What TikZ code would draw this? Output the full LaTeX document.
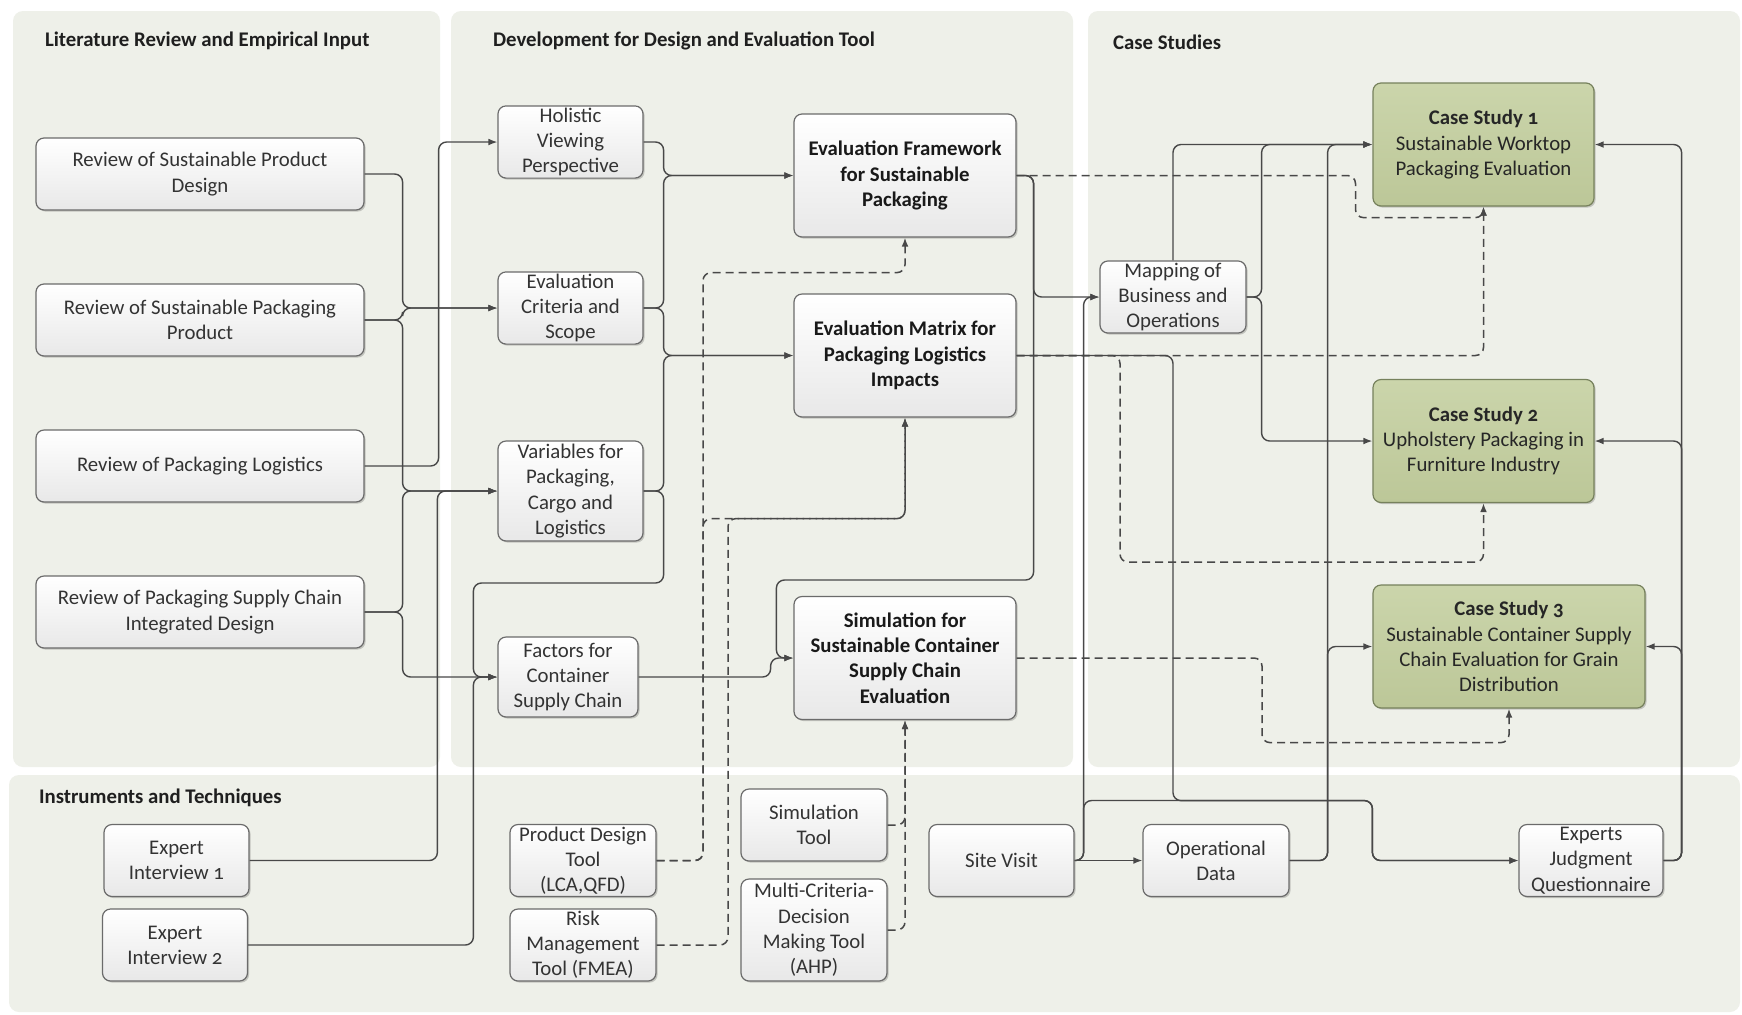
\documentclass[tikz,border=0pt]{standalone}
\usepackage{fontspec}
\setmainfont{Carlito}[Numbers=OldStyle]
\usetikzlibrary{arrows.meta,calc,shadows}
\definecolor{panel}{HTML}{EEF0E9}
\definecolor{lineC}{HTML}{484848}
\definecolor{boxB}{HTML}{6B6B6B}
\definecolor{csTop}{HTML}{CBD5AB}
\definecolor{csBot}{HTML}{BCC798}
\definecolor{csB}{HTML}{76815C}
\definecolor{txt}{HTML}{333333}
\begin{document}
\begin{tikzpicture}[x=0.5pt,y=-0.5pt,
  every node/.style={font=\fontsize{10.4}{12.6}\selectfont, text=txt},
  box/.style={draw=boxB, line width=0.6pt, rounded corners=4pt, align=center, inner sep=1pt,
    top color=white, bottom color=black!9,
    drop shadow={shadow xshift=0.8pt, shadow yshift=-0.8pt, opacity=0.18, fill=black}},
  wide/.style={box, minimum width=164pt, minimum height=36pt},
  small/.style={box, minimum width=72.5pt, minimum height=36pt},
  big/.style={box, minimum width=111pt, minimum height=61.5pt, font=\fontsize{10.4}{12.6}\selectfont\bfseries, text=black!90},
  cs/.style={box, draw=csB, top color=csTop, bottom color=csBot, minimum width=110.5pt, minimum height=61.5pt, text=black!85},
  hdr/.style={anchor=west, font=\fontsize{10.4}{12.6}\selectfont\bfseries, text=black!88},
  conn/.style={draw=lineC, line width=0.7pt, rounded corners=4pt},
  arr/.style={-{Latex[length=4.5pt,width=3.4pt]}},
  dsh/.style={dash pattern=on 4pt off 2.5pt, line width=0.75pt}
]
\useasboundingbox (0,0) rectangle (1742,1014);
\fill[white] (0,0) rectangle (1742,1014);
% panels
\fill[panel, rounded corners=5pt] (13,11) rectangle (440,767);
\fill[panel, rounded corners=5pt] (451,11) rectangle (1073,767);
\fill[panel, rounded corners=5pt] (1088,11) rectangle (1740,767);
\fill[panel, rounded corners=5pt] (9,775) rectangle (1740,1012);
% headers
\node[hdr] (h1) at (38,41) {Literature Review and Empirical Input};
\node[hdr] (h2) at (486,41) {Development for Design and Evaluation Tool};
\node[hdr] (h3) at (1106,42) {Case Studies};
\node[hdr] (h4) at (32,798) {Instruments and Techniques};
% left column
\node[wide] (R1) at (200,174) {Review of Sustainable Product\\Design};
\node[wide] (R2) at (200,320) {Review of Sustainable Packaging\\Product};
\node[wide] (R3) at (200,466) {Review of Packaging Logistics};
\node[wide] (R4) at (200,612) {Review of Packaging Supply Chain\\Integrated Design};
% middle column
\node[small] (H) at (570.5,142) {Holistic\\Viewing\\Perspective};
\node[small] (EC) at (570.5,308) {Evaluation\\Criteria and\\Scope};
\node[small, minimum height=50pt] (V) at (570.5,491) {Variables for\\Packaging,\\Cargo and\\Logistics};
\node[small, minimum width=70pt, minimum height=40pt] (F) at (568,677) {Factors for\\Container\\Supply Chain};
\node[big] (EF) at (905,175.5) {Evaluation Framework\\for Sustainable\\Packaging};
\node[big] (EM) at (905,355.5) {Evaluation Matrix for\\Packaging Logistics\\Impacts};
\node[big] (SIM) at (905,658) {Simulation for\\Sustainable Container\\Supply Chain\\Evaluation};
% case studies
\node[small, minimum width=73pt] (MAP) at (1173,297) {Mapping of\\Business and\\Operations};
\node[cs] (CS1) at (1483.5,144.5) {\textbf{Case Study 1}\\Sustainable Worktop\\Packaging Evaluation};
\node[cs] (CS2) at (1483.5,441) {\textbf{Case Study 2}\\Upholstery Packaging in\\Furniture Industry};
\node[cs, minimum width=136pt] (CS3) at (1509,646.5) {\textbf{Case Study 3}\\Sustainable Container Supply\\Chain Evaluation for Grain\\Distribution};
% instruments
\node[small] (EI1) at (176.5,860.5) {Expert\\Interview 1};
\node[small] (EI2) at (175,945) {Expert\\Interview 2};
\node[small, minimum width=73pt] (PDT) at (583,860.5) {Product Design\\Tool\\(LCA,QFD)};
\node[small, minimum width=73pt] (RMT) at (583,945) {Risk\\Management\\Tool (FMEA)};
\node[small, minimum width=73pt] (ST) at (814,825) {Simulation\\Tool};
\node[small, minimum width=73pt, minimum height=51pt] (MCDM) at (814,930) {Multi-Criteria-\\Decision\\Making Tool\\(AHP)};
\node[small] (SV) at (1001.5,860.5) {Site Visit};
\node[small, minimum width=73pt] (OD) at (1216,860.5) {Operational\\Data};
\node[small, minimum width=72pt] (EJQ) at (1591,860.5) {Experts\\Judgment\\Questionnaire};
% left inputs
\draw[conn,arr] (R1.east) -- ++(38,0) |- (EC.west);
\draw[conn,arr] (R2.east) -- ++(38,0) |- (EC.west);
\draw[conn,arr] (R2.east) -- ++(38,0) |- (V.west);
\draw[conn,arr] (R3.east) -- ++(74,0) |- (H.west);
\draw[conn,arr] (R4.east) -- ++(38,0) |- (V.west);
\draw[conn,arr] (R4.east) -- ++(38,0) |- (F.west);
\draw[conn,arr] (EI1.east) -| ($(V.west)+(-60,0)$) -- (V.west);
\draw[conn,arr] (EI2.east) -| ($(F.west)+(-24,0)$) -- (F.west);
% middle
\draw[conn,arr] (H.east) -- ++(20,0) |- (EF.west);
\draw[conn,arr] (EC.east) -- ++(20,0) |- (EF.west);
\draw[conn,arr] (EC.east) -- ++(20,0) |- (EM.west);
\draw[conn,arr] (V.east) -- ++(20,0) |- (EM.west);
\draw[conn,arr] (V.east) -- ++(20,0) -- ++(0,92) -| ($(F.west)+(-24,0)$) -- (F.west);
\draw[conn,arr] (F.east) -- ++(132,0) |- (SIM.west);
\draw[conn,arr] (EF.east) -- ++(17,0) |- (MAP.west);
\draw[conn,arr] (EF.east) -- ++(17,0) |- ($(SIM.west)+(-17,-78)$) |- (SIM.west);
% case studies
\draw[conn,arr] (SV.east) -- ++(9,0) |- (MAP.west);
\draw[conn,arr] (SV.east) -- (OD.west);
\draw[conn,arr] (SV.east) -- ++(9,0) |- ($(EJQ.west)+(-146,-60)$) |- (EJQ.west);
\draw[conn,arr] (EM.east) -| ($(MAP.south)+(0,467)$) -| ($(EJQ.west)+(-146,0)$) -- (EJQ.west);
\draw[conn,arr] (MAP.north) |- (CS1.west);
\draw[conn,arr] (MAP.east) -- ++(15,0) |- (CS1.west);
\draw[conn,arr] (MAP.east) -- ++(15,0) |- (CS2.west);
\draw[conn,arr] (OD.east) -- ++(38,0) |- (CS1.west);
\draw[conn,arr] (OD.east) -- ++(38,0) |- (CS3.west);
\draw[conn,arr] (EJQ.east) -- ++(18,0) |- (CS1.east);
\draw[conn,arr] (EJQ.east) -- ++(18,0) |- (CS2.east);
\draw[conn,arr] (EJQ.east) -- ++(18,0) |- (CS3.east);
% dashed
\draw[conn,dsh,arr] (EF.east) -| ($(CS1.south)+(-128,11)$) -| (CS1.south);
\draw[conn,dsh,arr] (EM.east) -| (CS1.south);
\draw[conn,dsh,arr] (EM.east) -| ($(CS2.south)+(-363.5,59)$) -| (CS2.south);
\draw[conn,dsh,arr] (SIM.east) -| ($(CS3.south)+(-247,34)$) -| (CS3.south);
\draw[conn,dsh,arr] (PDT.east) -| ($(EF.south)+(-202,35)$) -| (EF.south);
\draw[conn,dsh,arr] (PDT.east) -| ($(EM.south)+(-202,101)$) -| (EM.south);
\draw[conn,dsh,arr] (RMT.east) -| ($(EM.south)+(-177,101)$) -| (EM.south);
\draw[conn,dsh,arr] (ST.east) -| (SIM.south);
\draw[conn,dsh,arr] (MCDM.east) -| (SIM.south);
\end{tikzpicture}
\end{document}
